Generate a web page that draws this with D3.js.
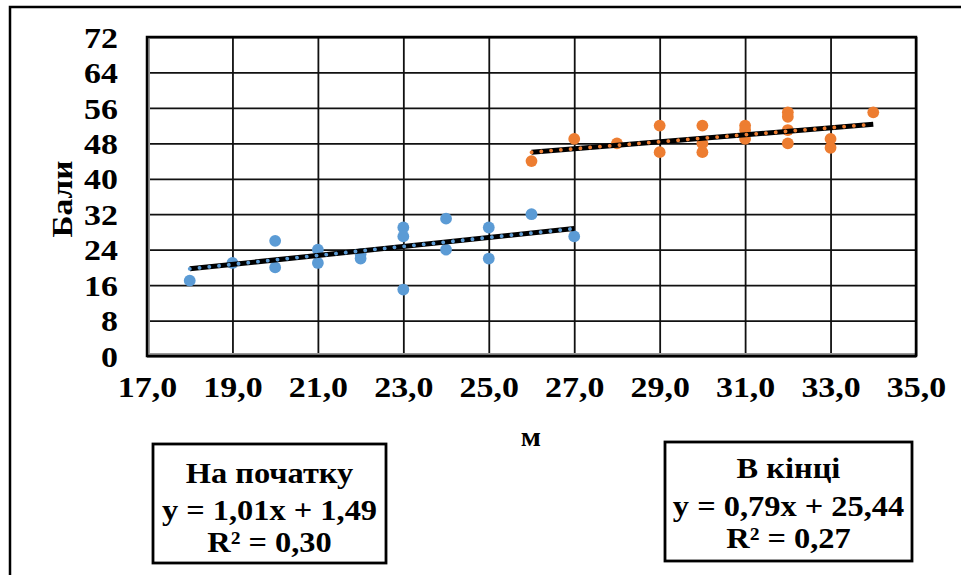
<!DOCTYPE html>
<html>
<head>
<meta charset="utf-8">
<script src="https://cdn.jsdelivr.net/npm/d3@7"></script>
<style>
  html, body { margin: 0; padding: 0; background: #fff; }
  svg { display: block; }
  text { font-family: "Times New Roman", Tinos, "Liberation Serif", "DejaVu Serif", serif; font-weight: 700; fill: #000; }
</style>
</head>
<body>
<svg id="chart" width="961" height="575"></svg>
<script>
// Start of course ("На початку")
const startX = [18, 19, 20, 20, 21, 21, 22, 22, 23, 23, 23, 24, 24, 25, 25, 26, 27];
const startY = [17, 21, 26, 20, 24, 21, 22, 23, 29, 27, 15, 31, 24, 29, 22, 32, 27];
// End of course ("В кінці")
const endX = [26, 27, 28, 29, 29, 30, 30, 30, 31, 31, 31, 32, 32, 32, 32, 33, 33, 34];
const endY = [44, 49, 48, 52, 46, 52, 48, 46, 52, 51, 49, 55, 54, 51, 48, 49, 47, 55];

// Linear trend fits
const startTrend = { slope: 1.01, intercept: 1.49, r2: "0,30", title: "На початку", eq: "y = 1,01x + 1,49" };
const endTrend = { slope: 0.79, intercept: 25.44, r2: "0,27", title: "В кінці", eq: "y = 0,79x + 25,44" };

const xTicks = [17, 19, 21, 23, 25, 27, 29, 31, 33, 35];
const yTicks = [0, 8, 16, 24, 32, 40, 48, 56, 64, 72];
const xTitle = "м";
const yTitle = "Бали";

const blue = "#5B9BD5";
const orange = "#ED7D31";

const svg = d3.select("#chart");
const plot = { left: 147, right: 916, top: 37, bottom: 356 };

const x = d3.scaleLinear().domain([17, 35]).range([plot.left, plot.right]);
const y = d3.scaleLinear().domain([0, 72]).range([plot.bottom, plot.top]);

// Widen glyphs horizontally by factor k (the chart's text runs slightly wide)
function stretch(sel, k) {
  sel.each(function () {
    const w = this.getComputedTextLength();
    d3.select(this).attr("textLength", w * k).attr("lengthAdjust", "spacingAndGlyphs");
  });
}

// Outer frame
svg.append("rect")
  .attr("x", 10).attr("y", 7).attr("width", 980).attr("height", 600)
  .attr("fill", "none").attr("stroke", "#000").attr("stroke-width", 2.5);

// Gridlines
const gx = svg.append("g")
  .attr("transform", `translate(0,${plot.bottom})`)
  .call(d3.axisBottom(x).tickValues(xTicks).tickSize(-(plot.bottom - plot.top)).tickFormat(""));
gx.select(".domain").remove();
gx.selectAll("line").attr("stroke", "#111").attr("stroke-width", 1.8);

const gy = svg.append("g")
  .attr("transform", `translate(${plot.left},0)`)
  .call(d3.axisLeft(y).tickValues(yTicks).tickSize(-(plot.right - plot.left)).tickFormat(""));
gy.select(".domain").remove();
gy.selectAll("line").attr("stroke", "#111").attr("stroke-width", 1.8);

// Axis lines (gray) inside plot border
svg.append("line")
  .attr("x1", plot.left + 2).attr("x2", plot.left + 2)
  .attr("y1", plot.top).attr("y2", plot.bottom)
  .attr("stroke", "#9a9a9a").attr("stroke-width", 2);
svg.append("line")
  .attr("x1", plot.left).attr("x2", plot.right)
  .attr("y1", plot.bottom - 2).attr("y2", plot.bottom - 2)
  .attr("stroke", "#9a9a9a").attr("stroke-width", 2);

// Plot border
svg.append("rect")
  .attr("x", plot.left).attr("y", plot.top)
  .attr("width", plot.right - plot.left).attr("height", plot.bottom - plot.top)
  .attr("fill", "none").attr("stroke", "#000").attr("stroke-width", 2.5);

// Tick labels
const fmtX = d => d.toFixed(1).replace(".", ",");
const yAxis = svg.append("g")
  .attr("transform", `translate(${plot.left},0)`)
  .call(d3.axisLeft(y).tickValues(yTicks).tickSize(0).tickPadding(29));
yAxis.attr("font-family", null).attr("font-size", null);
yAxis.select(".domain").remove();
yAxis.selectAll("text")
  .style("font-size", "30px")
  .attr("dy", "0.34em")
  .call(stretch, 1.13);

const xAxis = svg.append("g")
  .attr("transform", `translate(0,${plot.bottom})`)
  .call(d3.axisBottom(x).tickValues(xTicks).tickSize(0).tickPadding(20).tickFormat(fmtX));
xAxis.attr("font-family", null).attr("font-size", null);
xAxis.select(".domain").remove();
xAxis.selectAll("text")
  .style("font-size", "30px")
  .call(stretch, 1.13);

// Axis titles
svg.append("text")
  .attr("transform", "translate(72,199) rotate(-90)")
  .attr("text-anchor", "middle")
  .style("font-size", "29px")
  .text(yTitle)
  .call(stretch, 1.15);
svg.append("text")
  .attr("x", 531).attr("y", 446)
  .attr("text-anchor", "middle")
  .style("font-size", "27px")
  .text(xTitle)
  .call(stretch, 1.1);

// Points
function drawPoints(xs, ys, color) {
  svg.append("g").selectAll("circle")
    .data(xs.map((d, i) => [d, ys[i]]))
    .join("circle")
    .attr("cx", d => x(d[0]))
    .attr("cy", d => y(d[1]))
    .attr("r", 5.9)
    .attr("fill", color);
}
drawPoints(startX, startY, blue);
drawPoints(endX, endY, orange);

// Trend lines: black stroke with dotted overlay in the series colour
function drawTrend(xs, t, color) {
  const x0 = d3.min(xs), x1 = d3.max(xs);
  const pts = [[x0, t.slope * x0 + t.intercept], [x1, t.slope * x1 + t.intercept]];
  const line = d3.line().x(d => x(d[0])).y(d => y(d[1]));
  svg.append("path").attr("d", line(pts))
    .attr("stroke", "#000").attr("stroke-width", 5).attr("fill", "none");
  svg.append("path").attr("d", line(pts))
    .attr("stroke", color).attr("stroke-width", 3.8).attr("fill", "none")
    .attr("stroke-linecap", "round").attr("stroke-dasharray", "0.1 9.7");
}
drawTrend(startX, startTrend, blue);
drawTrend(endX, endTrend, orange);

// Equation boxes
function drawBox(bx, by, bw, bh, t, baselines) {
  svg.append("rect")
    .attr("x", bx).attr("y", by).attr("width", bw).attr("height", bh)
    .attr("fill", "#fff").attr("stroke", "#000").attr("stroke-width", 2.8);
  const cx = bx + bw / 2;
  const lines = [t.title, t.eq, "R² = " + t.r2];
  lines.forEach((s, i) => {
    svg.append("text")
      .attr("x", cx).attr("y", baselines[i])
      .attr("text-anchor", "middle")
      .style("font-size", "30px")
      .text(s)
      .call(stretch, 1.08);
  });
}
drawBox(153, 444, 233, 119, startTrend, [483, 520, 552]);
drawBox(665, 442, 247, 119, endTrend, [478, 516, 548]);
</script>
</body>
</html>
